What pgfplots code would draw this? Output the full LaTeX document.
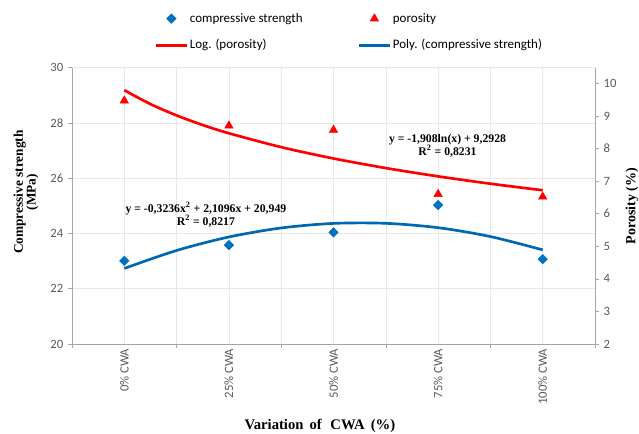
\documentclass[border=0pt]{standalone}
\usepackage{fontspec}
\setmainfont{Liberation Serif}
\newfontfamily\carlito{Carlito}
\usepackage{pgfplots}
\pgfplotsset{compat=1.18}

\definecolor{xlblue}{RGB}{0,112,192}
\definecolor{xlred}{RGB}{255,0,0}
\definecolor{axgray}{RGB}{165,165,165}
\definecolor{txtgray}{RGB}{89,89,89}
\definecolor{gridgray}{RGB}{232,232,232}

\pgfplotsset{
  base/.style={
    width=392.25pt, height=207.2pt, scale only axis,
    at={(0,0)}, anchor=south west,
    xmin=0.5, xmax=5.5,
    tick align=outside, major tick length=3pt,
    tick style={axgray, thin},
    axis line style={axgray, thin},
    ticklabel style={font=\carlito\fontsize{9.5}{11}\selectfont, text=txtgray},
    /pgf/number format/assume math mode=true,
    label style={font=\bfseries\fontsize{10.5}{10.5}\selectfont},
    legend image code/.code={\draw[mark repeat=2,mark phase=2,##1] plot coordinates {(0cm,0cm) (0.4cm,0cm) (0.8cm,0cm)};},
  },
}
\tikzset{eqn/.style={font=\bfseries\fontsize{8.8}{10}\selectfont, align=center}}

\begin{document}
\begin{tikzpicture}
% left axis: compressive strength
\begin{axis}[base,
  axis x line*=bottom, axis y line*=left,
  ymin=20, ymax=30, ytick={20,22,...,30},
  xtick={0.5,1.5,...,5.5}, xticklabels={},
  extra x ticks={1,2,3,4,5},
  extra x tick labels={0\% CWA,25\% CWA,50\% CWA,75\% CWA,100\% CWA},
  extra x tick style={major tick length=0pt, grid=major,
    xticklabel style={rotate=90, anchor=east}},
  xmajorgrids, ymajorgrids,
  grid style={gridgray, thin},
  xlabel={Variation\, of\,\, CWA\, (\%)},
  xlabel style={font=\bfseries\fontsize{11}{11}\selectfont,
    at={(axis description cs:0.474,-0.295)}, anchor=center},
  ylabel={Compressive strength\\(MPa)},
  ylabel style={align=center, font=\bfseries\fontsize{10}{9.6}\selectfont,
    at={(axis description cs:-0.088,0.55)}, anchor=center},
]
\addplot[only marks, mark=square*, mark size=2.5pt,
  mark options={rotate=45, fill=xlblue, draw=xlblue}]
  coordinates {(1,23.01)(2,23.58)(3,24.04)(4,25.03)(5,23.07)};
\addplot[xlblue!92!black, line width=2pt, smooth]
  coordinates {(1,22.735)(1.5,23.385)(2,23.874)(2.5,24.200)(3,24.365)
               (3.5,24.368)(4,24.210)(4.5,23.889)(5,23.407)};
\node[eqn] at (axis cs:1.78,24.69)
  {y = -0,3236x\textsuperscript{2} + 2,1096x + 20,949\\R\textsuperscript{2} = 0,8217};
\node[eqn] at (axis cs:4.09,27.18)
  {y = -1,908ln(x) + 9,2928\\R\textsuperscript{2} = 0,8231};
\end{axis}

% right axis: porosity
\begin{axis}[base,
  axis y line*=right, axis x line=none,
  ymin=2, ymax=10.48, ytick={2,3,...,10},
  ylabel={Porosity (\%)},
  ylabel style={at={(axis description cs:1.071,0.5)}, anchor=center},
  legend columns=2,
  legend cell align=left,
  legend style={draw=none, fill=none, inner sep=0pt,
    at={(axis description cs:0.158,1.206)}, anchor=north west,
    font=\carlito\fontsize{9.75}{11}\selectfont,
    row sep=8.5pt,
    nodes={inner sep=1.5pt, anchor=west},
    /tikz/every even column/.append style={column sep=40pt}},
]
\addlegendimage{only marks, mark=square*, mark size=2.5pt,
  mark options={rotate=45, fill=xlblue, draw=xlblue}}
\addplot[only marks, mark=triangle*, mark size=3.6pt, color=xlred]
  coordinates {(1,9.47)(2,8.70)(3,8.57)(4,6.60)(5,6.52)};
\addplot[xlred, line width=2pt, smooth]
  coordinates {(1,9.79)(1.25,9.364)(1.5,9.016)(1.75,8.722)(2,8.468)
               (2.5,8.042)(3,7.694)(3.5,7.400)(4,7.145)(4.5,6.920)(5,6.719)};
\addlegendimage{xlblue!92!black, line width=2pt}
\legend{compressive strength, porosity, Log. (porosity), Poly. (compressive strength)}
\end{axis}

\pgfresetboundingbox
\path[use as bounding box] (-54pt,-67.5pt) rectangle (425.25pt,258pt);
\end{tikzpicture}
\end{document}
